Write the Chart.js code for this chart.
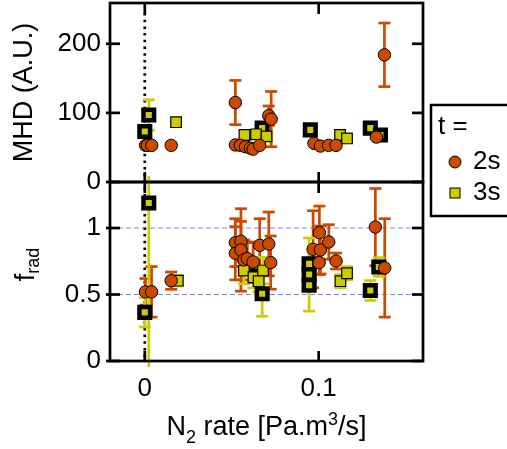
<!DOCTYPE html>
<html>
<head>
<meta charset="utf-8">
<script src="https://cdn.jsdelivr.net/npm/chart.js@4.4.1/dist/chart.umd.min.js"></script>
<style>
  html, body { margin: 0; padding: 0; background: #fff; }
  #wrap { position: relative; width: 507px; height: 449px; }
</style>
</head>
<body>
<div id="wrap"><canvas id="chart"></canvas></div>
<script>
// tick values
const xTicks = [0, 0.1];
const mhdTicks = [0, 100, 200];
const fradTicks = [0, 0.5, 1];
const fradGuides = [0.5, 1];

// top panel: MHD (A.U.) vs N2 rate
const mhd2sRate = [0.0005, 0.0015, 0.0040, 0.0152, 0.0521, 0.0521, 0.0550, 0.0579, 0.0607, 0.0623, 0.0661, 0.0713, 0.0727, 0.0973, 0.1010, 0.1057, 0.1100, 0.1332, 0.1378];
const mhd2s     = [53, 53, 53, 53, 115, 53.6, 53, 51, 49, 47.5, 53, 96, 91, 56, 52, 53, 53, 65, 184];
const mhd2sErr  = [0, 0, 0, 0, 32, 0, 0, 0, 0, 0, 0, 14, 40, 0, 0, 0, 0, 0, 46];

const mhd3sRate = [0.0180, 0.0573, 0.0640, 0.0700, 0.1123, 0.1163];
const mhd3s     = [86.5, 68, 69, 66, 68, 63];
const mhd3sErr  = [0, 0, 0, 0, 0, 0];

// 3s shots drawn with the heavy black outline
const mhd3sBoxRate = [0.0023, 0.0000, 0.0675, 0.0952, 0.1297, 0.1355];
const mhd3sBox     = [97, 73, 78, 75.4, 78, 68];
const mhd3sBoxErr  = [22, 0, 0, 0, 0, 0];

// bottom panel: f_rad vs N2 rate
const frad2sRate = [0.0004, 0.0039, 0.0152, 0.0521, 0.0553, 0.0521, 0.0553, 0.0570, 0.0590, 0.0623, 0.0661, 0.0713, 0.0724, 0.0968, 0.1004, 0.1010, 0.1058, 0.1100, 0.1003, 0.1326, 0.1380];
const frad2s     = [0.52, 0.52, 0.604, 0.89, 0.90, 0.81, 0.835, 0.76, 0.77, 0.745, 0.87, 0.88, 0.74, 0.84, 0.965, 0.835, 0.895, 0.752, 0.74, 1.007, 0.70];
const frad2sErr  = [0.10, 0.19, 0.065, 0.18, 0.15, 0.20, 0.31, 0.15, 0.12, 0.15, 0.20, 0.24, 0.20, 0.29, 0.20, 0.18, 0.13, 0.06, 0.09, 0.29, 0.37];

const frad3sRate = [0.0190, 0.0570, 0.0625, 0.0680, 0.0655, 0.1125, 0.1163];
const frad3s     = [0.604, 0.68, 0.63, 0.68, 0.60, 0.60, 0.66];
const frad3sErr  = [0.04, 0.10, 0.08, 0.10, 0.08, 0.05, 0.05];

const frad3sBoxRate = [0.0023, 0.0000, 0.0675, 0.0640, 0.0945, 0.0945, 0.0945, 0.1297, 0.1346];
const frad3sBox     = [1.188, 0.366, 0.506, 0.64, 0.73, 0.65, 0.57, 0.53, 0.707];
const frad3sBoxErr  = [1.25, 0.11, 0.17, 0, 0, 0.275, 0, 0.075, 0.07];

const FONT = "'Liberation Sans', Arial, sans-serif";
const ORANGE = '#cc4a00';
const YELLOW = '#cccc00';

function points(xs, ys) {
    return xs.map((x, i) => ({ x: x, y: ys[i] }));
}

function circleSet(label, xs, ys, errs, axis, inLegend) {
    return {
        label: label, data: points(xs, ys), errors: errs, yAxisID: axis, inLegend: inLegend,
        pointStyle: 'circle', pointRadius: 6.2,
        pointBackgroundColor: ORANGE, pointBorderColor: '#000', pointBorderWidth: 1
    };
}

function squareSet(label, xs, ys, errs, axis, inLegend, heavy) {
    return {
        label: label, data: points(xs, ys), errors: errs, yAxisID: axis, inLegend: inLegend,
        pointStyle: 'rect', pointRadius: 7.5,
        pointBackgroundColor: YELLOW, pointBorderColor: '#000', pointBorderWidth: heavy ? 4.5 : 1.2
    };
}

function line(ctx, x1, y1, x2, y2) {
    ctx.beginPath();
    ctx.moveTo(x1, y1);
    ctx.lineTo(x2, y2);
    ctx.stroke();
}

// draws pieces of text with sub/superscripts, starting at x
function drawRich(ctx, parts, x, y, size) {
    parts.forEach(p => {
        const s = p.shift ? Math.round(size * 0.65) : size;
        ctx.font = s + 'px ' + FONT;
        ctx.fillText(p.t, x, y + (p.shift || 0));
        x += ctx.measureText(p.t).width;
    });
}

function richWidth(ctx, parts, size) {
    let w = 0;
    parts.forEach(p => {
        const s = p.shift ? Math.round(size * 0.65) : size;
        ctx.font = s + 'px ' + FONT;
        w += ctx.measureText(p.t).width;
    });
    return w;
}

// no extra room for half tick labels, the frame is placed by hand
function noPadding(axis) {
    axis.paddingTop = 0;
    axis.paddingBottom = 0;
    axis.paddingLeft = 0;
    axis.paddingRight = 0;
}

const panelPlugin = {
    id: 'panels',
    beforeDatasetsDraw(chart) {
        const ctx = chart.ctx;
        const ca = chart.chartArea;
        const x = chart.scales.x, yBot = chart.scales.yBot;

        ctx.save();
        // blue dashed guides in the f_rad panel
        ctx.strokeStyle = '#8080ff';
        ctx.lineWidth = 1;
        ctx.setLineDash([5, 3]);
        fradGuides.forEach(v => {
            const py = yBot.getPixelForValue(v);
            line(ctx, ca.left, py, ca.right, py);
        });

        // dotted line at zero rate
        ctx.strokeStyle = '#000';
        ctx.lineWidth = 2.7;
        ctx.setLineDash([2.5, 4.2]);
        const x0 = x.getPixelForValue(0);
        line(ctx, x0, ca.top + 10, x0, ca.bottom - 3);
        ctx.setLineDash([]);

        // error bars
        chart.data.datasets.forEach((ds, i) => {
            const meta = chart.getDatasetMeta(i);
            const ys = chart.scales[ds.yAxisID];
            ctx.save();
            ctx.beginPath();
            ctx.rect(ca.left, ys.top - 6, ca.right - ca.left, ys.bottom - ys.top + 12);
            ctx.clip();
            ctx.strokeStyle = ds.pointBackgroundColor;
            ctx.lineWidth = 2.7;
            ds.data.forEach((p, j) => {
                const e = ds.errors[j];
                if (!e) return;
                const px = meta.data[j].x;
                const y1 = ys.getPixelForValue(p.y + e);
                const y2 = ys.getPixelForValue(p.y - e);
                line(ctx, px, y1, px, y2);
                line(ctx, px - 6, y1, px + 6, y1);
                line(ctx, px - 6, y2, px + 6, y2);
            });
            ctx.restore();
        });
        ctx.restore();
    },
    afterDatasetsDraw(chart) {
        const ctx = chart.ctx;
        const ca = chart.chartArea;
        const x = chart.scales.x, yTop = chart.scales.yTop, yBot = chart.scales.yBot;

        ctx.save();
        ctx.strokeStyle = '#000';
        ctx.lineWidth = 2.7;
        [yTop, yBot].forEach(s => {
            ctx.strokeRect(ca.left, s.top, ca.right - ca.left, s.bottom - s.top);
        });
        [[yTop, mhdTicks], [yBot, fradTicks]].forEach(([s, vals]) => {
            vals.forEach(v => {
                const py = s.getPixelForValue(v);
                line(ctx, ca.left - 4, py, ca.left + 10, py);
                line(ctx, ca.right - 11, py, ca.right, py);
            });
        });
        xTicks.forEach(v => {
            const px = x.getPixelForValue(v);
            [yTop, yBot].forEach(s => {
                line(ctx, px, s.top, px, s.top + 11);
                line(ctx, px, s.bottom - 10, px, s.bottom);
            });
        });
        ctx.restore();
    },
    afterDraw(chart) {
        const ctx = chart.ctx;
        const ca = chart.chartArea;
        const yTop = chart.scales.yTop, yBot = chart.scales.yBot;

        ctx.save();
        ctx.fillStyle = '#000';
        ctx.textBaseline = 'alphabetic';

        // MHD title
        ctx.save();
        ctx.translate(32, (yTop.top + yTop.bottom) / 2);
        ctx.rotate(-Math.PI / 2);
        ctx.textAlign = 'center';
        ctx.font = '27px ' + FONT;
        ctx.fillText('MHD (A.U.)', 0, 0);
        ctx.restore();

        // f_rad title
        const fParts = [{ t: 'f' }, { t: 'rad', shift: 5 }];
        ctx.save();
        ctx.translate(34, (yBot.top + yBot.bottom) / 2 - 7);
        ctx.rotate(-Math.PI / 2);
        ctx.textAlign = 'left';
        drawRich(ctx, fParts, -richWidth(ctx, fParts, 27) / 2, 0, 27);
        ctx.restore();

        // x title
        const xParts = [{ t: 'N' }, { t: '2', shift: 8 }, { t: ' rate [Pa.m' }, { t: '3', shift: -10 }, { t: '/s]' }];
        ctx.textAlign = 'left';
        const w = richWidth(ctx, xParts, 27);
        drawRich(ctx, xParts, (ca.left + ca.right) / 2 - w / 2, 435, 27);

        // legend box
        ctx.lineWidth = 2.5;
        ctx.strokeStyle = '#000';
        ctx.strokeRect(431, 105, 90, 111);
        ctx.font = '26px ' + FONT;
        ctx.textBaseline = 'middle';
        ctx.fillText('t =', 438, 127);
        const shown = chart.data.datasets.filter(ds => ds.inLegend);
        shown.forEach((ds, i) => {
            const cy = 162 + i * 31;
            ctx.fillStyle = ds.pointBackgroundColor;
            ctx.strokeStyle = ds.pointBorderColor;
            ctx.lineWidth = 1;
            if (ds.pointStyle === 'circle') {
                ctx.beginPath();
                ctx.arc(455, cy, 6, 0, Math.PI * 2);
                ctx.fill();
                ctx.stroke();
            } else {
                ctx.fillRect(450, cy - 5, 10, 10);
                ctx.strokeRect(450, cy - 5, 10, 10);
            }
            ctx.fillStyle = '#000';
            ctx.fillText(ds.label, 473, cy);
        });
        ctx.restore();
    }
};

const tickFont = { family: FONT, size: 26 };

new Chart(document.getElementById('chart'), {
    type: 'scatter',
    data: {
        datasets: [
            circleSet('2s', mhd2sRate, mhd2s, mhd2sErr, 'yTop', true),
            circleSet('2s', frad2sRate, frad2s, frad2sErr, 'yBot', false),
            squareSet('3s', mhd3sRate, mhd3s, mhd3sErr, 'yTop', true, false),
            squareSet('3s', frad3sRate, frad3s, frad3sErr, 'yBot', false, false),
            squareSet('3s', mhd3sBoxRate, mhd3sBox, mhd3sBoxErr, 'yTop', false, true),
            squareSet('3s', frad3sBoxRate, frad3sBox, frad3sBoxErr, 'yBot', false, true)
        ]
    },
    options: {
        responsive: true,
        maintainAspectRatio: false,
        animation: false,
        events: [],
        layout: { autoPadding: false, padding: { left: 0, top: 3, right: 84, bottom: 0 } },
        scales: {
            x: {
                type: 'linear', min: -0.02, max: 0.16,
                grid: { display: false, drawTicks: false },
                border: { display: false },
                afterBuildTicks: axis => { axis.ticks = xTicks.map(v => ({ value: v })); },
                afterFit: axis => { axis.height = 88; noPadding(axis); },
                ticks: { font: tickFont, color: '#000', padding: 12, maxRotation: 0, callback: v => String(v) }
            },
            // stacked axes are laid out bottom-up in definition order
            yBot: {
                type: 'linear', position: 'left', stack: 'panels', stackWeight: 1,
                min: 0, max: 1.346,
                grid: { display: false, drawTicks: false },
                border: { display: false },
                afterBuildTicks: axis => { axis.ticks = fradTicks.map(v => ({ value: v })); },
                afterFit: axis => { axis.width = 110; noPadding(axis); },
                ticks: { font: tickFont, color: '#000', padding: 9, callback: v => String(v) }
            },
            yTop: {
                type: 'linear', position: 'left', stack: 'panels', stackWeight: 1,
                min: 0, max: 259,
                grid: { display: false, drawTicks: false },
                border: { display: false },
                afterBuildTicks: axis => { axis.ticks = mhdTicks.map(v => ({ value: v })); },
                afterFit: axis => { axis.width = 110; noPadding(axis); },
                ticks: { font: tickFont, color: '#000', padding: 9, callback: v => String(v) }
            }
        },
        plugins: {
            legend: { display: false },
            tooltip: { enabled: false }
        }
    },
    plugins: [panelPlugin]
});
</script>
</body>
</html>
